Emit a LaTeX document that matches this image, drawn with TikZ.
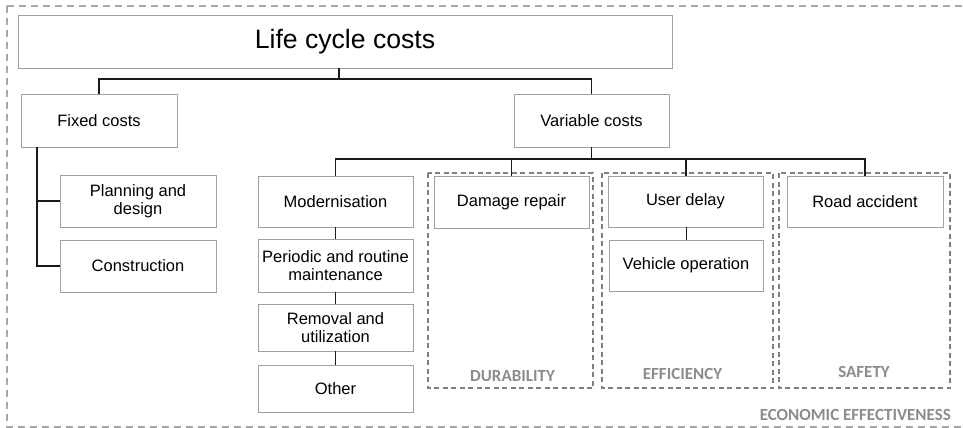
\documentclass[tikz,border=0pt]{standalone}
\usepackage{fontspec}
\setmainfont{Liberation Sans}
\newfontfamily\labfont{Carlito}
\definecolor{boxline}{HTML}{A0A0A0}
\definecolor{dashline}{HTML}{808080}
\definecolor{outerline}{HTML}{A6A6A6}
\definecolor{labgray}{HTML}{8C8C8C}
\definecolor{conn}{HTML}{1A1A1A}
\begin{document}
\begin{tikzpicture}[x=1pt,y=-1pt,
  costbox/.style={draw=boxline,line width=0.9pt,fill=white,inner sep=0pt,align=center,
    font=\fontsize{16.5}{18}\selectfont},
  group/.style={draw=dashline,line width=1.1pt,dash pattern=on 5pt off 3.5pt},
  outer/.style={draw=outerline,line width=1.1pt,dash pattern=on 7pt off 5pt},
  link/.style={draw=conn,line width=1.3pt},
  grplabel/.style={anchor=base,inner sep=0pt,text=labgray,font=\labfont\bfseries\fontsize{17}{20}\selectfont}]
\useasboundingbox (0,0) rectangle (963,428);
\draw[outer] (7,6) -- (975,6) (7,6) -- (7,427) -- (975,427);
% group boxes
\draw[group] (428,173) rectangle (593,388);
\draw[group] (602,173) rectangle (773,388);
\draw[group] (779,173) rectangle (950,388);
% nodes
\node[costbox,minimum width=654pt,minimum height=53pt,font=\fontsize{26.6}{30}\selectfont] (life) at (345,41.5) {Life cycle costs};
\node[costbox,minimum width=156pt,minimum height=53pt] (fixed) at (99,120.5) {Fixed costs};
\node[costbox,minimum width=155pt,minimum height=53pt] (var) at (591.5,120.5) {Variable costs};
\node[costbox,minimum width=156pt,minimum height=52pt] (plan) at (138,201) {Planning and\\design};
\node[costbox,minimum width=156pt,minimum height=52pt] (constr) at (138,266) {Construction};
\node[costbox,minimum width=155pt,minimum height=51pt] (mod) at (335.5,201.5) {Modernisation};
\node[costbox,minimum width=155pt,minimum height=53pt] (per) at (335.5,265.5) {Periodic and routine\\maintenance};
\node[costbox,minimum width=155pt,minimum height=47pt] (rem) at (335.5,327.5) {Removal and\\utilization};
\node[costbox,minimum width=155pt,minimum height=47pt] (other) at (335.5,388.5) {Other};
\node[costbox,minimum width=155pt,minimum height=52pt] (dmg) at (511.5,202) {Damage repair};
\node[costbox,minimum width=155pt,minimum height=51pt] (user) at (685.5,201.5) {User delay};
\node[costbox,minimum width=154pt,minimum height=51pt] (veh) at (686,265.5) {Vehicle operation};
\node[costbox,minimum width=156pt,minimum height=51pt] (road) at (865,201.5) {Road accident};
% labels
\node[grplabel] (ldur) at (512.5,381) {DURABILITY};
\node[grplabel] (leff) at (682.5,379) {EFFICIENCY};
\node[grplabel] (lsaf) at (864,377) {SAFETY};
\node[grplabel,anchor=base east] (leco) at (951,420) {ECONOMIC EFFECTIVENESS};
% connectors
\coordinate (bus1) at (0,79);
\coordinate (bus2) at (0,159);
\coordinate (fx) at (37,147);
\draw[link] ([xshift=-6pt]life.south) -- ([xshift=-6pt]life.south |- bus1);
\draw[link] (fixed.north) -- (fixed.north |- bus1) -- (var.north |- bus1) -- (var.north);
\draw[link] (var.south) -- (var.south |- bus2);
\draw[link] (mod.north) -- (mod.north |- bus2) -- (road.north |- bus2) -- (road.north);
\draw[link] (dmg.north) -- (dmg.north |- bus2);
\draw[link] ([xshift=0.5pt]user.north) -- ([xshift=0.5pt]user.north |- bus2);
\draw[link] (fx) |- (constr.west);
\draw[link] (plan.west) -- (plan.west -| fx);
\draw[link] (mod) -- (per);
\draw[link] (per) -- (rem);
\draw[link] (rem) -- (other);
\draw[link] ([xshift=1pt]user.south) -- ([xshift=1pt]user.south |- veh.north);
\end{tikzpicture}
\end{document}
